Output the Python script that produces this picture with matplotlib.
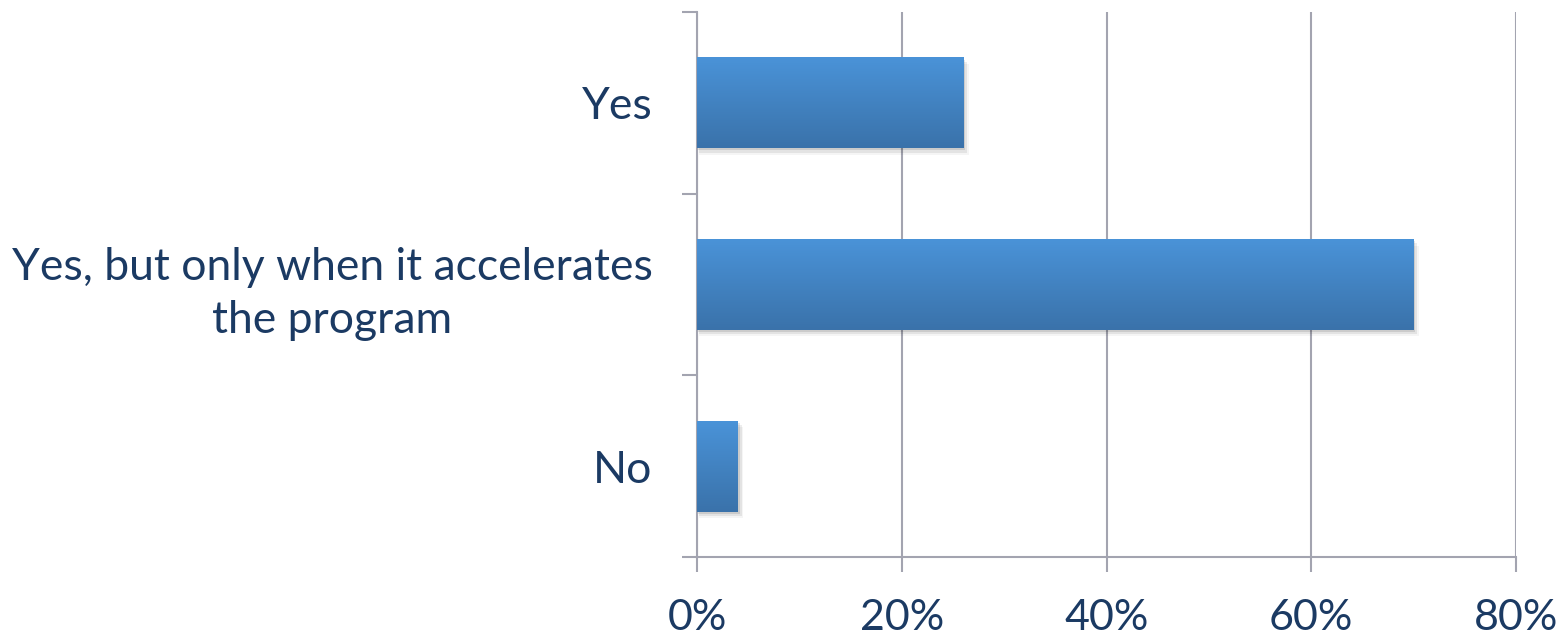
import matplotlib
matplotlib.use("Agg")
import matplotlib.pyplot as plt
import numpy as np
from matplotlib.patches import Rectangle
from matplotlib.colors import LinearSegmentedColormap

categories = ["Yes", "Yes, but only when it accelerates\nthe program", "No"]
values = [26, 70, 4]
xticks = [0, 20, 40, 60, 80]
xticklabels = ["0%", "20%", "40%", "60%", "80%"]

plt.rcParams['font.family'] = ['Lato', 'DejaVu Sans']
text_color = "#1b3a63"
grid_color = "#a3a4b0"

fig = plt.figure(figsize=(15.62, 6.38), dpi=100)
ax = fig.add_axes([697/1562, 1-557/638, (1516-697)/1562, (557-12)/638])

ypos = np.arange(len(categories))
bar_h = 0.5
cmap = LinearSegmentedColormap.from_list("g", ["#4a93d8", "#3a72aa"])
grad = np.linspace(0, 1, 256).reshape(-1, 1)

bars = ax.barh(ypos, values, height=bar_h, color="#4282c4", zorder=3)
for b in bars:
    x0, y0 = b.get_x(), b.get_y()
    w, h = b.get_width(), b.get_height()
    for i, a in enumerate([0.10, 0.07, 0.04]):
        dx = 0.25 + i * 0.25
        dy = 0.012 + i * 0.012
        ax.add_patch(Rectangle((x0 + dx*0.3, y0 + dy), w + dx*0.4, h, facecolor="black",
                               alpha=a, edgecolor="none", zorder=2))
    im = ax.imshow(grad, cmap=cmap, aspect="auto",
                   extent=[x0, x0 + w, y0 + h, y0], origin="upper", zorder=4)
    im.set_clip_path(b)

ax.set_xlim(0, 80)
ax.set_ylim(2.5, -0.5)
ax.set_yticks([-0.5, 0.5, 1.5, 2.5])
ax.set_yticklabels([])
ax.set_yticks(ypos, minor=True)
ax.set_yticklabels(categories, minor=True, fontsize=32, color=text_color,
                   multialignment="center", linespacing=1.35)
ax.tick_params(axis="y", which="minor", length=0, pad=32)
ax.tick_params(axis="y", which="major", length=11, width=1.5, color=grid_color, direction="out")

ax.set_xticks(xticks)
ax.set_xticklabels(xticklabels, fontsize=31, color=text_color)
ax.tick_params(axis="x", length=11, width=1.5, color=grid_color, pad=19)

ax.grid(axis="x", color=grid_color, linewidth=1.5, zorder=0)
ax.set_axisbelow(True)
for s in ["top", "right"]:
    ax.spines[s].set_visible(False)
ax.spines["left"].set_color(grid_color)
ax.spines["left"].set_linewidth(1.5)
ax.spines["bottom"].set_color(grid_color)
ax.spines["bottom"].set_linewidth(1.5)

fig.savefig("out.png", dpi=100)
